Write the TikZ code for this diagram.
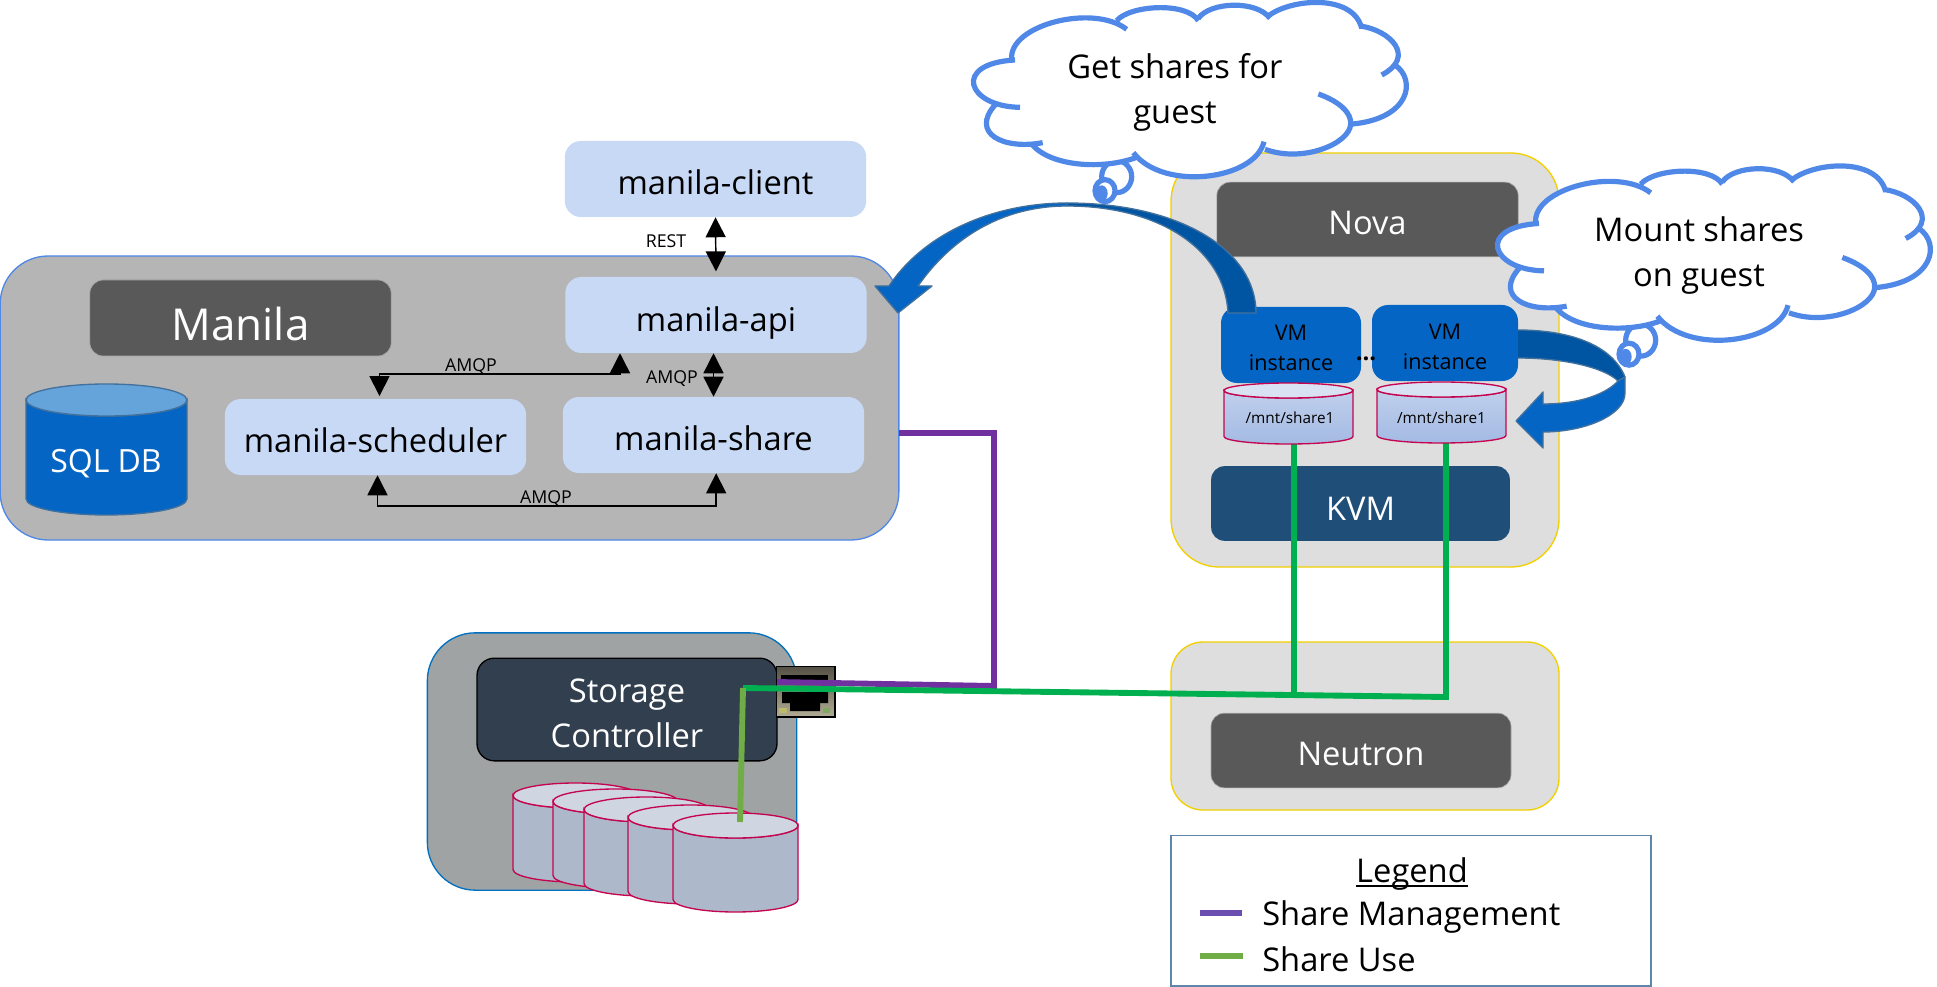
\documentclass[tikz,border=0pt]{standalone}
\usepackage{fontspec}
\setmainfont{Open Sans}
\usetikzlibrary{arrows.meta}
\definecolor{cloudblue}{HTML}{5088E8}
\definecolor{vmblue}{HTML}{0565C4}
\definecolor{darkband}{HTML}{0055A2}
\definecolor{edgeblue}{HTML}{41719C}
\definecolor{paleblue}{HTML}{C8D9F6}
\definecolor{titlegrey}{HTML}{595959}
\definecolor{diskred}{HTML}{C4044F}
\definecolor{nfsgreen}{HTML}{00B050}
\definecolor{usegreen}{HTML}{70AD47}
\definecolor{mgmtpurple}{HTML}{7030A0}
\definecolor{keypurple}{HTML}{6B4FB0}
\definecolor{lidblue}{HTML}{65A3DB}
\definecolor{storeedge}{HTML}{0070C0}
\definecolor{storegrey}{HTML}{A0A3A3}
\definecolor{ctrlnavy}{HTML}{323F4F}
\definecolor{diskbody}{HTML}{ADB9CA}
\definecolor{disklid}{HTML}{CFD5E1}
\definecolor{goldedge}{HTML}{F2D000}
\definecolor{kvmblue}{HTML}{1F4E79}
\definecolor{sharetop}{HTML}{C0D0EC}
\definecolor{sharelow}{HTML}{A3BAE3}
\definecolor{sharelid}{HTML}{D9E2F3}
\definecolor{portdark}{HTML}{545044}
\definecolor{portlight}{HTML}{B0AC94}
\definecolor{ledyellow}{HTML}{BDBB6B}
\definecolor{ledgreen}{HTML}{7DA860}
\newcommand{\bigfont}{\fontsize{24.5}{33.5}\selectfont}
\tikzset{
  groupbox/.style={draw,rounded corners=36pt,inner sep=0pt,line width=1pt},
  compbox/.style={fill=paleblue,rounded corners=12pt,inner sep=0pt,minimum width=226pt,minimum height=57pt,text height=23pt,text depth=0pt,font=\bigfont},
  titlebox/.style={fill=titlegrey,draw=black!35,line width=.5pt,text=white,rounded corners=10pt,inner sep=0pt,text height=23pt,text depth=0pt},
  vmbox/.style={fill=vmblue,rounded corners=12pt,inner sep=0pt,minimum height=57pt},
  vmtext/.style={inner sep=0pt,align=center,font=\fontsize{16.2}{22.5}\selectfont},
  biarrow/.style={line width=1.1pt,{Triangle[length=15pt,width=15pt]}-{Triangle[length=15pt,width=15pt]}},
  tag/.style={inner sep=0pt,anchor=base,font=\fontsize{13.3}{15}\selectfont},
  wire/.style={line width=4.4pt},
  puff/.style={draw=cloudblue,line width=3.9pt},
  bandedge/.style={draw=edgeblue,line width=1pt,line join=round}
}
% lobes of a cloud, #1 joins one lobe to the next
\newcommand{\lobes}[1]{(155,178) .. controls (145,75) and (400,10) .. (500,88) #1
(470,62) .. controls (510,15) and (680,5) .. (715,62) #1
(715,55) .. controls (750,5) and (890,0) .. (930,55) #1
(922,50) .. controls (990,-5) and (1180,-20) .. (1205,85) #1
(1200,78) .. controls (1290,90) and (1370,170) .. (1265,225) #1
(1305,195) .. controls (1370,240) and (1350,355) .. (1178,372) #1
(1075,282) .. controls (1140,305) and (1175,340) .. (1172,372) .. controls (1170,430) and (1030,490) .. (915,448) #1
(912,425) .. controls (885,540) and (610,575) .. (520,458) #1
(530,472) .. controls (430,510) and (270,500) .. (215,432) #1
(248,428) .. controls (130,450) and (30,400) .. (105,315) #1
(180,322) .. controls (20,320) and (-25,190) .. (165,180)}
% disk: left x, top y, width, total height, lid height, body style, lid colour
\newcommand{\disk}[7]{
\draw[draw=diskred,line width=1pt,#6] (#1,#2+#5/2) -- (#1,#2+#4-#5/2) arc[start angle=180,end angle=0,x radius=#3/2,y radius=#5/2] -- (#1+#3,#2+#5/2) arc[start angle=0,end angle=180,x radius=#3/2,y radius=#5/2] -- cycle;
\draw[draw=diskred,line width=1pt,fill=#7] (#1+#3/2,#2+#5/2) ellipse[x radius=#3/2,y radius=#5/2];
}
\begin{document}
\begin{tikzpicture}[x=0.75pt,y=-0.75pt,line cap=butt,>=stealth]
\useasboundingbox (0,0) rectangle (1937,987);

% Manila side
\node[groupbox,draw=cloudblue,fill=black!29,minimum width=674pt,minimum height=213pt] (manilabox) at (449.5,398) {};
\node[compbox] (manilaclient) at (715.5,179) {manila-client};
\node[compbox,text height=25pt] (manilaapi) at (716,315) {manila-api};
\node[compbox] (manilashare) at (713.5,435) {manila-share};
\node[compbox] (manilasched) at (375.5,437) {manila-scheduler};
\node[titlebox,minimum width=226pt,minimum height=57pt,text height=33pt,font=\fontsize{33}{38}\selectfont] (manilatitle) at (240.5,318) {Manila};

\draw[draw=edgeblue,line width=1pt,fill=vmblue] (26,400) -- (26,499) arc[start angle=180,end angle=0,x radius=80.5,y radius=16] -- (187,400) arc[start angle=0,end angle=180,x radius=80.5,y radius=16] -- cycle;
\draw[draw=edgeblue,line width=1pt,fill=lidblue] (106.5,400) ellipse[x radius=80.5,y radius=16];
\node[text=white,inner sep=0pt,anchor=base,font=\fontsize{24}{28}\selectfont] (sqldb) at (106,472) {SQL DB};

\coordinate (amqpturn) at (620,374);
\coordinate (amqplow) at (546,506);
\draw[biarrow,shorten >=4pt] (manilaclient.south) -- (manilaapi.north);
\draw[biarrow] (manilaapi.south -| manilashare) -- (manilashare.north);
\draw[biarrow,shorten <=2pt] ([xshift=3pt]manilasched.north) |- (amqpturn) -- (amqpturn |- manilaapi.south);
\draw[biarrow] ([xshift=1.5pt]manilasched.south) |- (amqplow) -| ([xshift=2pt]manilashare.south);
\node[tag] (restlabel) at (666,248) {REST};
\node[tag] (amqpa) at (672,383) {AMQP};
\node[tag] (amqpb) at (471,371) {AMQP};
\node[tag] (amqpc) at (546,503) {AMQP};

% storage
\node[groupbox,draw=storeedge,fill=storegrey,minimum width=277pt,minimum height=193pt] (storagebox) at (612,761.5) {};
\node[draw=black,line width=1pt,fill=ctrlnavy,rounded corners=13pt,inner sep=0pt,minimum width=225pt,minimum height=77pt] (controller) at (627,709.5) {};
\node[text=white,inner sep=0pt,align=center,font=\bigfont] (controllertext) at (627,713.5) {Storage\\Controller};
\foreach \dx/\dy in {513/783,553/789,584/797,628/805,673/813}
{
\disk{\dx}{\dy}{125}{99}{25}{fill=diskbody}{disklid}
}

% nova side
\node[groupbox,draw=goldedge,fill=black!13,minimum width=291pt,minimum height=310.5pt] (novabox) at (1365,360) {};
\node[groupbox,draw=goldedge,fill=black!13,minimum width=291pt,minimum height=126pt,rounded corners=24pt] (neutronbox) at (1365,726) {};
\node[titlebox,minimum width=226pt,minimum height=56pt,font=\bigfont] (novatitle) at (1367.5,219.5) {Nova};
\node[titlebox,minimum width=225pt,minimum height=56pt,font=\bigfont] (neutrontitle) at (1361,750.5) {Neutron};
\node[fill=kvmblue,text=white,rounded corners=10pt,inner sep=0pt,minimum width=224pt,minimum height=56pt,text height=25pt,text depth=0pt,font=\bigfont] (kvm) at (1360.5,503.5) {KVM};
\node[vmbox,minimum width=105pt] (vma) at (1291,345) {};
\node[vmbox,minimum width=109.5pt] (vmb) at (1445,343) {};
\node[vmtext] (vmatext) at (1291,348) {VM\\instance};
\node[vmtext] (vmbtext) at (1445,347) {VM\\instance};
\node[inner sep=0pt,font=\bfseries\fontsize{18}{20}\selectfont] (vmdots) at (1366,359) {...};

% green and purple links
\coordinate (mgmtout) at (899,433);
\coordinate (mgmtbend) at (994,686);
\coordinate (mgmtport) at (777,682);
\coordinate (usecorner) at (743,688);
\coordinate (usedisk) at (740,822);
\coordinate (usefar) at (1446,697);
\coordinate (usenear) at (1294,695);
\coordinate (sharea) at (1288.5,444);
\coordinate (shareb) at (1441.5,443);

% rj45 port
\node[draw=black,line width=1pt,top color=portdark,bottom color=portlight,inner sep=0pt,minimum width=44pt,minimum height=38pt] (port) at (805.5,691.5) {};
\fill[black] (781,675) rectangle (828,681);
\fill[black] (782,692) -- (828,692) -- (828,703) -- (820,703) -- (820,711) -- (790,711) -- (790,703) -- (782,703) -- cycle;
\fill[ledyellow] (779,708) rectangle (787,713);
\fill[ledgreen] (823,708) rectangle (830,713);

\draw[wire,mgmtpurple] (mgmtout) -| (mgmtbend) -- (mgmtport);
\draw[wire,nfsgreen] (sharea -| usenear) -- (usenear);
\draw[wire,nfsgreen] (usecorner) -- (usefar) -- (usefar |- shareb);
\draw[wire,usegreen] (usecorner) -- (usedisk);

% shares under the guests
\disk{1224}{383}{129}{61}{15}{top color=sharetop,bottom color=sharelow}{sharelid}
\disk{1377}{382}{129}{61}{15}{top color=sharetop,bottom color=sharelow}{sharelid}
\node[inner sep=0pt,font=\fontsize{11.5}{14}\selectfont] (mounta) at (1290,418) {/mnt/share1};
\node[inner sep=0pt,font=\fontsize{11.5}{14}\selectfont] (mountb) at (1441.5,418) {/mnt/share1};

% curved arrows
\draw[bandedge,fill=darkband] (1067,203) .. controls (1180,203) and (1256,250) .. (1256,313) -- (1228,313) .. controls (1225,250) and (1160,206) .. (1067,206) -- cycle;
\draw[bandedge,fill=vmblue] (1067,203) .. controls (995,203) and (925,232) .. (889,286) -- (875,286) -- (898,313) -- (932,286) -- (918,286) .. controls (950,240) and (1000,206) .. (1067,206) -- cycle;
\draw[bandedge,fill=darkband] (1518,330) .. controls (1570,330) and (1612,345) .. (1625,377) -- (1618,381) .. controls (1605,368) and (1565,358) .. (1518,358);
\draw[bandedge,fill=vmblue] (1625,377) -- (1625,393) .. controls (1625,415) and (1585,432) .. (1543,432) -- (1543,448) -- (1516,421) -- (1543,392) -- (1543,404) .. controls (1580,404) and (1606,394) .. (1618,381) -- cycle;

% the two clouds
\foreach \dx/\dy in {960/0,1484/163.5}
{
\begin{scope}[shift={(\dx,\dy)},x=0.25pt,y=-0.25pt]
\draw[puff] (470,530) ellipse[x radius=45,y radius=48];
\draw[puff,fill=white] (435,572) ellipse[x radius=30,y radius=33];
\fill[cloudblue] (425,580) ellipse[x radius=18,y radius=24];
\fill[white] \lobes{--} -- cycle;
\draw[puff] \lobes{};
\end{scope}
}
\node[inner sep=0pt,align=center,font=\bigfont] (getshares) at (1175,92.5) {Get shares for\\guest};
\node[inner sep=0pt,align=center,font=\bigfont] (mountshares) at (1699,255.5) {Mount shares\\on guest};

% legend
\node[draw=edgeblue!85,line width=1pt,inner sep=0pt,minimum width=360pt,minimum height=113pt] (legendbox) at (1411,910.5) {};
\node[inner sep=0pt,anchor=base,font=\bigfont] (legendhead) at (1412,882) {Legend};
\draw[line width=1.4pt] ([yshift=-3pt]legendhead.base west) -- ([yshift=-3pt]legendhead.base east);
\node[inner sep=0pt,anchor=base west,font=\bigfont] (mgmttext) at (1262,925) {Share Management};
\node[inner sep=0pt,anchor=base west,font=\bigfont] (usetext) at (1262,971) {Share Use};
\coordinate (mgmtkey) at (1200,913);
\coordinate (usekey) at (1200,956);
\draw[wire,keypurple] (mgmtkey) -- ++(42,0);
\draw[wire,usegreen] (usekey) -- ++(43,0);
\end{tikzpicture}
\end{document}
